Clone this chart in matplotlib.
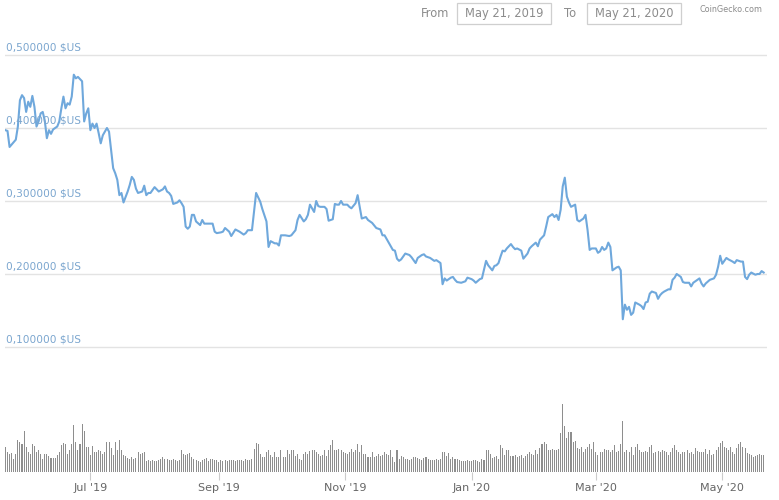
import numpy as np
import pandas as pd
import matplotlib
matplotlib.use('Agg')
import matplotlib.pyplot as plt
from matplotlib.patches import Rectangle

start = pd.Timestamp('2019-05-21')
end = pd.Timestamp('2020-05-21')

# price: day offset from start -> price in $US
days = [0, 1, 2, 5, 6, 7, 8, 9, 10, 11, 12, 13, 14, 15, 16, 17, 18, 19, 20, 21,
        22, 23, 25, 26, 27, 28, 29, 30, 31, 32, 33, 34, 35, 36, 37, 38, 39, 40, 41, 42,
        43, 44, 45, 46, 47, 48, 49, 50, 51, 52, 53, 54, 55, 56, 57, 59, 60, 61, 62, 63,
        64, 65, 66, 67, 68, 69, 70, 71, 72, 73, 74, 76, 77, 78, 79, 80, 81, 83, 84, 85,
        86, 87, 88, 89, 90, 91, 92, 94, 95, 96, 98, 100, 101, 102, 104, 105, 106, 108, 109, 111,
        113, 115, 116, 117, 119, 121, 123, 124, 126, 127, 128, 130, 131, 132, 133, 135, 137, 138, 140, 141,
        142, 144, 145, 146, 147, 149, 150, 151, 152, 154, 155, 156, 158, 159, 160, 161, 162, 163, 165, 166,
        167, 169, 170, 171, 172, 174, 175, 177, 179, 181, 182, 183, 185, 187, 188, 189, 190, 191, 192, 193,
        195, 196, 197, 198, 199, 201, 202, 203, 205, 206, 207, 208, 210, 211, 212, 213, 215, 216, 217, 218,
        220, 222, 223, 225, 226, 227, 229, 230, 232, 233, 235, 236, 237, 238, 239, 240, 241, 242, 244, 245,
        246, 247, 249, 250, 252, 253, 254, 256, 257, 258, 260, 261, 262, 264, 265, 266, 267, 268, 269, 270,
        271, 272, 273, 275, 276, 277, 279, 280, 281, 282, 283, 285, 286, 287, 288, 289, 290, 291, 292, 293,
        295, 296, 297, 298, 299, 300, 301, 302, 303, 304, 306, 307, 308, 309, 310, 311, 312, 314, 315, 316,
        317, 318, 320, 321, 322, 323, 324, 326, 327, 328, 330, 331, 332, 334, 335, 336, 337, 338, 340, 342,
        343, 344, 345, 346, 348, 349, 351, 352, 353, 355, 356, 357, 358, 359, 360, 362, 363, 364, 365, 366]
price = [0.397, 0.396, 0.374, 0.384, 0.402, 0.438, 0.445, 0.441, 0.422, 0.436, 0.429, 0.444, 0.429, 0.402, 0.409, 0.420, 0.422, 0.410, 0.386, 0.397,
         0.392, 0.398, 0.402, 0.409, 0.427, 0.443, 0.427, 0.434, 0.432, 0.443, 0.473, 0.468, 0.470, 0.467, 0.464, 0.409, 0.420, 0.427, 0.397, 0.406,
         0.400, 0.406, 0.393, 0.379, 0.390, 0.395, 0.400, 0.395, 0.370, 0.345, 0.338, 0.329, 0.308, 0.311, 0.298, 0.313, 0.322, 0.333, 0.329, 0.317,
         0.311, 0.312, 0.313, 0.321, 0.308, 0.311, 0.311, 0.315, 0.319, 0.316, 0.313, 0.316, 0.320, 0.313, 0.311, 0.307, 0.296, 0.298, 0.301, 0.297,
         0.292, 0.265, 0.262, 0.265, 0.281, 0.281, 0.272, 0.267, 0.274, 0.269, 0.269, 0.269, 0.258, 0.256, 0.257, 0.258, 0.263, 0.258, 0.252, 0.261,
         0.258, 0.254, 0.256, 0.260, 0.260, 0.311, 0.299, 0.289, 0.272, 0.237, 0.245, 0.242, 0.242, 0.239, 0.253, 0.253, 0.252, 0.253, 0.260, 0.274,
         0.281, 0.272, 0.275, 0.281, 0.295, 0.285, 0.300, 0.293, 0.292, 0.292, 0.289, 0.273, 0.275, 0.296, 0.295, 0.295, 0.300, 0.295, 0.295, 0.292,
         0.290, 0.297, 0.308, 0.292, 0.276, 0.278, 0.274, 0.270, 0.263, 0.261, 0.253, 0.253, 0.243, 0.233, 0.232, 0.221, 0.218, 0.220, 0.224, 0.228,
         0.226, 0.223, 0.219, 0.215, 0.222, 0.226, 0.227, 0.224, 0.222, 0.220, 0.218, 0.219, 0.215, 0.186, 0.194, 0.191, 0.195, 0.196, 0.192, 0.189,
         0.188, 0.190, 0.195, 0.193, 0.191, 0.188, 0.193, 0.194, 0.218, 0.212, 0.205, 0.211, 0.212, 0.215, 0.224, 0.232, 0.231, 0.235, 0.241, 0.237,
         0.234, 0.235, 0.232, 0.221, 0.228, 0.235, 0.238, 0.243, 0.238, 0.247, 0.253, 0.265, 0.278, 0.282, 0.278, 0.281, 0.274, 0.288, 0.320, 0.332,
         0.306, 0.298, 0.292, 0.295, 0.274, 0.272, 0.276, 0.281, 0.260, 0.233, 0.235, 0.235, 0.229, 0.231, 0.237, 0.233, 0.235, 0.243, 0.237, 0.205,
         0.209, 0.210, 0.205, 0.138, 0.158, 0.151, 0.155, 0.144, 0.147, 0.161, 0.158, 0.156, 0.152, 0.161, 0.162, 0.173, 0.176, 0.174, 0.166, 0.171,
         0.174, 0.176, 0.179, 0.179, 0.192, 0.195, 0.200, 0.196, 0.189, 0.188, 0.188, 0.183, 0.188, 0.192, 0.194, 0.187, 0.183, 0.187, 0.192, 0.194,
         0.199, 0.210, 0.225, 0.214, 0.222, 0.220, 0.217, 0.215, 0.219, 0.217, 0.217, 0.196, 0.193, 0.199, 0.202, 0.199, 0.200, 0.200, 0.204, 0.202]

# daily traded volume (relative units), one bar per day from May 21, 2019
volume = [25, 20, 18, 19, 13, 18, 32, 30, 28, 41,
          25, 20, 18, 28, 26, 20, 22, 18, 13, 18,
          18, 16, 14, 14, 14, 17, 20, 27, 29, 28,
          18, 22, 28, 47, 30, 22, 28, 48, 41, 25,
          25, 17, 26, 20, 20, 22, 21, 18, 20, 30,
          30, 24, 17, 30, 22, 32, 22, 17, 16, 14,
          13, 15, 13, 14, 20, 18, 19, 20, 11, 12,
          11, 12, 11, 11, 12, 13, 15, 13, 13, 12,
          12, 13, 12, 11, 12, 22, 18, 17, 18, 19,
          15, 13, 12, 11, 10, 12, 13, 14, 11, 13,
          13, 12, 12, 10, 12, 11, 12, 11, 12, 12,
          12, 11, 12, 12, 12, 11, 13, 12, 12, 13,
          23, 29, 28, 18, 15, 15, 20, 22, 17, 15,
          20, 15, 15, 22, 15, 15, 22, 18, 22, 22,
          16, 18, 13, 12, 18, 20, 18, 21, 22, 22,
          20, 18, 16, 17, 22, 16, 22, 27, 32, 22,
          22, 23, 22, 20, 19, 18, 20, 23, 20, 22,
          28, 20, 27, 18, 18, 15, 15, 20, 15, 16,
          18, 16, 17, 20, 18, 17,
          22, 15, 10, 22, 13, 16, 15, 13, 13, 12,
          13, 15, 15, 14, 13, 12, 14, 15, 13, 12,
          12, 12, 13, 12, 13, 20, 20, 16, 19, 13,
          15, 13, 13, 12, 11, 11, 11, 12, 11, 11,
          12, 12, 11, 10, 13, 12, 22, 22, 18, 14,
          15, 16, 13, 27, 24, 17, 22, 22, 16, 16,
          17, 15, 16, 17, 14, 16, 18, 20, 18, 17,
          22, 18, 24, 28, 30, 28, 22, 22, 23, 22,
          22, 23, 39, 68, 46, 34, 40, 40, 30, 31,
          24, 23, 25, 20, 23, 25, 28, 23, 30, 20,
          17, 20, 20, 23, 22, 22, 20, 22, 27, 20,
          21, 28, 51, 20, 22, 20, 25, 17, 25, 28,
          22, 20, 20, 21, 20, 25, 27, 19, 20, 21,
          20, 22, 21, 20, 17, 20, 24, 27, 22, 20,
          18, 20, 20, 22, 19, 20, 18, 24, 21, 20,
          20, 20, 23, 18, 22, 17, 18, 22, 25, 29,
          31, 25, 24, 22, 25, 20, 18, 24, 28, 30,
          25, 24, 19, 18, 17, 15, 16, 17, 18, 17, 17]

price_ticks = [0.1, 0.2, 0.3, 0.4, 0.5]
month_ticks = ['2019-07-01', '2019-09-01', '2019-11-01', '2020-01-01', '2020-03-01', '2020-05-01']
month_labels = ["Jul '19", "Sep '19", "Nov '19", "Jan '20", "Mar '20", "May '20"]

price_dates = start + pd.to_timedelta(days, unit='D')
vol_dates = start + pd.to_timedelta(np.arange(len(volume)), unit='D')

W, H = 779, 500
fig = plt.figure(figsize=(W / 100, H / 100), dpi=100)
fig.patch.set_facecolor('white')

left, right = 5 / W, 767 / W
bottom = (H - 472) / H
xlim = (start - pd.Timedelta(hours=5), end + pd.Timedelta(days=1.6))

# volume bars at the bottom
axv = fig.add_axes([left, bottom, right - left, 72 / H])
axv.bar(vol_dates, volume, width=0.5, color='#8e8e8e', linewidth=0, antialiased=False)
axv.set_xlim(xlim)
axv.set_ylim(0, 72)
axv.set_yticks([])
for s in axv.spines.values():
    s.set_visible(False)
axv.set_xticks(pd.to_datetime(month_ticks))
axv.set_xticklabels(month_labels)
axv.tick_params(axis='x', length=6, width=0.8, color='#cccccc', labelcolor='#666666',
                labelsize=8, pad=2)
axv.patch.set_alpha(0)

# price line
ax = fig.add_axes([left, bottom, right - left, 432 / H])
ax.patch.set_alpha(0)
ax.plot(price_dates, price, color='#6fa8dc', lw=1.5, solid_joinstyle='round')
ax.set_xlim(xlim)
ax.set_ylim(-52 / 730, 380 / 730)
for s in ax.spines.values():
    s.set_visible(False)
ax.set_xticks([])
ax.set_yticks(price_ticks)
ax.set_yticklabels([])
ax.tick_params(axis='y', length=0)
ax.yaxis.grid(True, color='#e3e3e3', lw=1)
ax.set_axisbelow(True)
for v in price_ticks:
    ax.annotate(f'{v:.6f} $US'.replace('.', ','), xy=(0, v), xycoords=('axes fraction', 'data'),
                xytext=(1, 1.5), textcoords='offset points', ha='left', va='bottom',
                fontsize=7.6, color='#7ba6cf')

# header: date range boxes and source
def fx(px):
    return px / W

def fy(py):
    return 1 - py / H

grey = '#8c8c8c'
fig.text(fx(435), fy(13.5), 'From', ha='center', va='center', fontsize=8.3, color=grey)
fig.text(fx(570), fy(13.5), 'To', ha='center', va='center', fontsize=8.3, color=grey)
for x0, label in [(457, 'May 21, 2019'), (587, 'May 21, 2020')]:
    fig.patches.append(Rectangle((fx(x0), fy(24.3)), 94.4 / W, 21 / H, transform=fig.transFigure,
                                 facecolor='white', edgecolor='#cfcfcf', lw=0.9))
    fig.text(fx(x0 + 47.2), fy(13.8), label, ha='center', va='center', fontsize=8.3, color=grey)
fig.text(fx(731.5), fy(10), 'CoinGecko.com', ha='center', va='center', fontsize=5.8, color='#8a8a8a')

fig.savefig('out.png', dpi=100)
